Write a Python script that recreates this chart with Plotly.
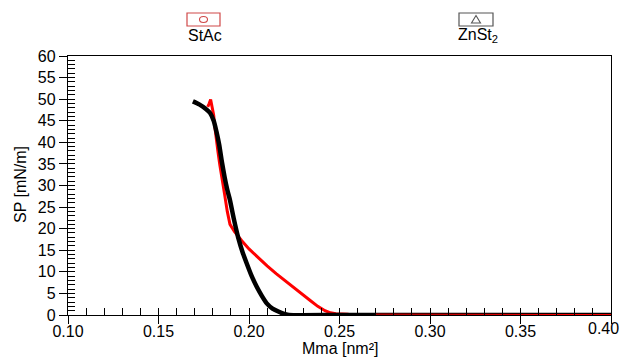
import plotly.graph_objects as go

# StAc (red) isotherm: mean molecular area [nm^2] vs surface pressure [mN/m]
stac_mma = [0.400, 0.350, 0.300, 0.270, 0.255, 0.248, 0.245, 0.242, 0.238, 0.234,
            0.230, 0.225, 0.220, 0.215, 0.210, 0.205, 0.200, 0.196, 0.192, 0.1895,
            0.1880, 0.1865, 0.1850, 0.1838, 0.1828, 0.1818, 0.1810, 0.1805, 0.1798,
            0.1788, 0.1780, 0.1772]
stac_sp = [0.1, 0.1, 0.1, 0.2, 0.2, 0.3, 0.5, 1.0, 2.0, 3.3,
           4.6, 6.2, 7.9, 9.6, 11.4, 13.3, 15.3, 17.2, 19.3, 21.0,
           24.0, 28.0, 31.5, 35.0, 38.0, 41.0, 44.0, 46.3, 48.0,
           49.9, 49.0, 48.2]

# ZnSt2 (black) isotherm
znst_mma = [0.400, 0.350, 0.300, 0.250, 0.2220, 0.2190, 0.2162, 0.2130, 0.2098, 0.2070,
            0.2042, 0.2015, 0.1987, 0.1965, 0.1940, 0.1915, 0.1895, 0.1880, 0.1865,
            0.1850, 0.1835, 0.1820, 0.1805, 0.1785, 0.1760, 0.1725, 0.1690]
znst_sp = [0.0, 0.0, 0.0, 0.0, 0.0, 0.3, 0.8, 1.5, 2.7, 4.5,
           6.6, 9.0, 12.0, 14.5, 18.0, 22.5, 26.6, 29.0, 32.0,
           35.5, 39.5, 42.5, 45.0, 46.8, 47.8, 48.8, 49.5]

x_range = [0.10, 0.40]
y_range = [0, 60]
x_ticks = [0.10, 0.15, 0.20, 0.25, 0.30, 0.35, 0.40]
x_ticklabels = ["0.10", "0.15", "0.20", "0.25", "0.30", "0.35", "0.40"]
y_ticks = [0, 5, 10, 15, 20, 25, 30, 35, 40, 45, 50, 55, 60]

FONT = "Liberation Sans, Arial, Helvetica, sans-serif"

fig = go.Figure()
fig.add_trace(go.Scatter(x=stac_mma, y=stac_sp, mode="lines",
                         line=dict(color="#ff0000", width=3), name="StAc",
                         showlegend=False))
fig.add_trace(go.Scatter(x=znst_mma, y=znst_sp, mode="lines",
                         line=dict(color="#000000", width=4.5, shape="spline", smoothing=0.6),
                         name="ZnSt2", showlegend=False))
# red flat tail drawn thinly on top (visible over black at zero)
fig.add_trace(go.Scatter(x=stac_mma[:4], y=stac_sp[:4], mode="lines",
                         line=dict(color="#ff0000", width=1), showlegend=False,
                         hoverinfo="skip"))
# invisible trace on overlay axes so they render
fig.add_trace(go.Scatter(x=x_range, y=y_range, xaxis="x2", yaxis="y2", mode="markers",
                         marker=dict(opacity=0), showlegend=False, hoverinfo="skip"))

common = dict(showgrid=False, zeroline=False, linecolor="black", linewidth=1.3,
              tickcolor="black", tickwidth=1.2, automargin=False)

# last label is drawn separately (nudged left like the original)
shown_text = x_ticklabels[:-1] + [""]

fig.update_layout(
    width=621, height=361,
    margin=dict(l=68, r=10, t=56, b=46),
    paper_bgcolor="white", plot_bgcolor="white",
    font=dict(family=FONT, size=16, color="black"),
    xaxis=dict(range=x_range, tickmode="array", tickvals=x_ticks, ticktext=shown_text,
               ticks="outside", ticklen=8, showline=True, mirror=True,
               ticklabelstandoff=-6,
               tickfont=dict(size=16), **common),
    yaxis=dict(range=y_range, tickmode="array", tickvals=y_ticks,
               ticks="outside", ticklen=8, showline=True, mirror=True,
               tickfont=dict(size=16), **common),
    xaxis2=dict(range=x_range, overlaying="x", anchor="y", side="bottom",
                tickmode="linear", tick0=0.10, dtick=0.01, ticks="inside", ticklen=7,
                showticklabels=False, showgrid=False, zeroline=False, showline=False,
                tickcolor="black", tickwidth=1.2, automargin=False),
    yaxis2=dict(range=y_range, overlaying="y", anchor="x", side="left",
                tickmode="linear", tick0=0, dtick=1, ticks="inside", ticklen=7,
                showticklabels=False, showgrid=False, zeroline=False, showline=False,
                tickcolor="black", tickwidth=1.0, automargin=False),
)


def px(xp):
    return (xp - 68) / 543.0


def py(yp):
    return (315 - yp) / 259.0


fig.add_annotation(xref="x", yref="paper", x=x_ticks[-1], y=py(328), text=x_ticklabels[-1],
                   showarrow=False, font=dict(size=16), xanchor="center", yanchor="middle",
                   xshift=-8)

# axis titles
fig.add_annotation(xref="paper", yref="paper", x=px(340), y=py(348), text="Mma [nm²]",
                   showarrow=False, font=dict(size=16), xanchor="center", yanchor="middle")
fig.add_annotation(xref="paper", yref="paper", x=px(20), y=py(185), text="SP [mN/m]",
                   showarrow=False, font=dict(size=16), textangle=-90,
                   xanchor="center", yanchor="middle")

# legend drawn above the plot
fig.add_shape(type="rect", xref="paper", yref="paper", x0=px(187), x1=px(220),
              y0=py(26), y1=py(13), line=dict(color="#d04848", width=1.2))
fig.add_shape(type="circle", xref="paper", yref="paper", x0=px(199.5), x1=px(207.5),
              y0=py(22.5), y1=py(16.5), line=dict(color="#d04848", width=1.1))
fig.add_annotation(xref="paper", yref="paper", x=px(205), y=py(36), text="StAc",
                   showarrow=False, font=dict(size=16), xanchor="center", yanchor="middle")

fig.add_shape(type="rect", xref="paper", yref="paper", x0=px(459), x1=px(493),
              y0=py(26), y1=py(13), line=dict(color="#555555", width=1.2))
fig.add_shape(type="path", xref="paper", yref="paper",
              path=f"M {px(471.5)} {py(23)} L {px(480.5)} {py(23)} L {px(476)} {py(15.5)} Z",
              line=dict(color="#555555", width=1.1))
fig.add_annotation(xref="paper", yref="paper", x=px(478), y=py(36), text="ZnSt<sub>2</sub>",
                   showarrow=False, font=dict(size=16), xanchor="center", yanchor="middle")

fig.write_html("out.html", config={"displayModeBar": False},
               post_script="document.body.style.margin='0';")
